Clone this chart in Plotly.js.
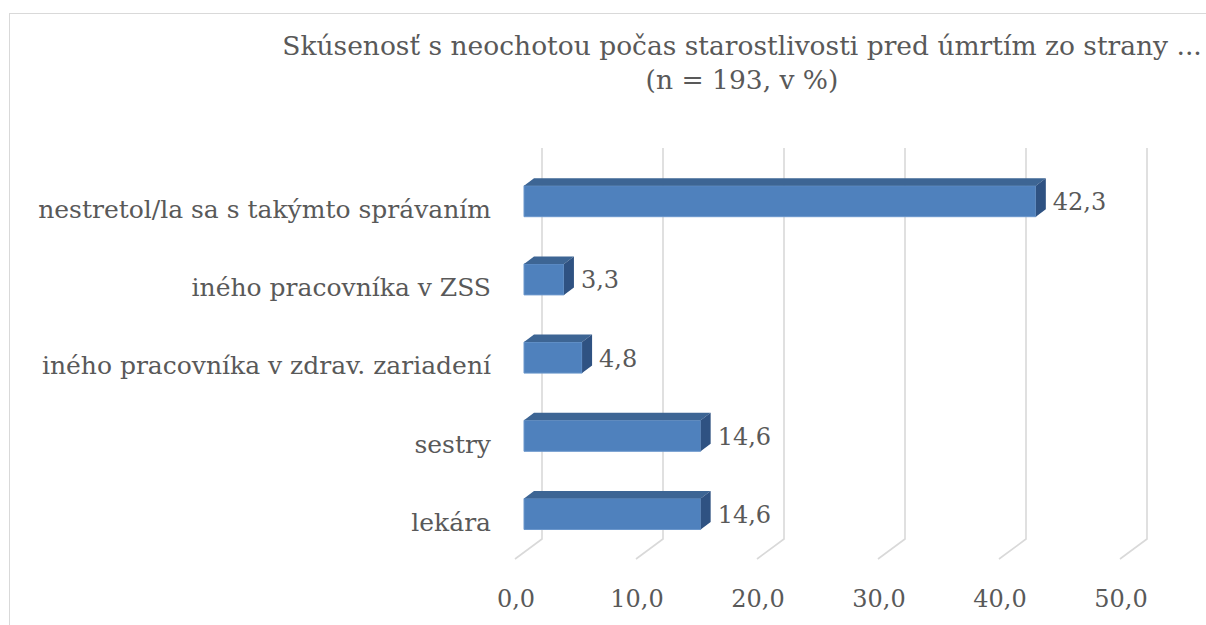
<!DOCTYPE html>
<html>
<head>
<meta charset="utf-8">
<script src="https://cdn.plot.ly/plotly-3.0.1.min.js"></script>
<style>
  html, body { margin:0; padding:0; background:#fff; overflow:hidden; }
  #wrap { position:relative; width:1206px; height:625px; }
  #frame { position:absolute; left:9px; top:13px; width:1300px; height:700px; border:1.5px solid #D9D9D9; box-sizing:border-box; }
  #chart { position:absolute; left:0; top:0; width:1206px; height:625px; }
</style>
</head>
<body>
<div id="wrap"><div id="frame"></div><div id="chart"></div></div>
<script>
// ---- data (bottom to top) ----
const categories = [
  "lekára",
  "sestry",
  "iného pracovníka v zdrav. zariadení",
  "iného pracovníka v ZSS",
  "nestretol/la sa s takýmto správaním"
];
const values = [14.6, 14.6, 4.8, 3.3, 42.3];
const xTicks = [0, 10, 20, 30, 40, 50];
const titleLines = ["Skúsenosť s neochotou počas starostlivosti pred úmrtím zo strany ...", "(n = 193, v %)"];

// ---- geometry (pixels) ----
const W = 1206, H = 625;
const plotL = 500, plotR = 1180, plotT = 140, plotB = 570;
const xPx0 = 524, xScale = 12.1;          // front face of bars
const yPx0 = 514, yUnit = 78.2;           // center of first category
const xr = [(plotL - xPx0) / xScale, (plotR - xPx0) / xScale];
const yr = [-(plotB - yPx0) / yUnit, (yPx0 - plotT) / yUnit];
const px2x = p => p / xScale;
const px2y = p => p / yUnit;

const barW = px2y(31);
const depthX = px2x(10), depthY = px2y(7.5);
const wallDX = px2x(18), floorFrontDX = px2x(-9);
const wallTopY = px2y(yPx0 - 148), wallBotY = -px2y(539 - yPx0), floorFrontY = -px2y(559 - yPx0);

const idx = categories.map((c, i) => i);
const fmt = v => v.toFixed(1).replace('.', ',');

// gridlines (back wall + floor) as shapes below the traces
const gridShapes = xTicks.map(t => ({
  type:'path', xref:'x', yref:'y', layer:'below',
  path:`M ${t + wallDX},${wallTopY} L ${t + wallDX},${wallBotY} L ${t + floorFrontDX},${floorFrontY}`,
  line:{color:'#D9D9D9', width:1.6}
}));

// top and side faces
const tx = [], ty = [], sx = [], sy = [];
values.forEach((v, i) => {
  const yt = i + barW / 2, yb = i - barW / 2;
  tx.push(0, v, v + depthX, depthX, 0, null);
  ty.push(yt, yt, yt + depthY, yt + depthY, yt, null);
  sx.push(v, v, v + depthX, v + depthX, v, null);
  sy.push(yb, yt, yt + depthY, yb + depthY, yb, null);
});

const textColor = '#595959';
const fontFam = '"DejaVu Serif", serif';

const traces = [
  { type:'bar', orientation:'h', x:values, y:idx, width:barW, base:0,
    marker:{color:'#4F81BD', line:{color:'#6B97CC', width:1}}, hoverinfo:'skip', showlegend:false },
  { type:'scatter', mode:'lines', x:tx, y:ty, fill:'toself', fillcolor:'#3D6594', line:{width:0, color:'#3D6594'}, hoverinfo:'skip', showlegend:false },
  { type:'scatter', mode:'lines', x:sx, y:sy, fill:'toself', fillcolor:'#2F5282', line:{width:0, color:'#2F5282'}, hoverinfo:'skip', showlegend:false },
  { type:'scatter', mode:'text', x:values.map(v => v + px2x(17)), y:idx.map(i => i - px2y(3)),
    text:values.map(fmt), textposition:'middle right', cliponaxis:false,
    textfont:{family:fontFam, size:24, color:textColor}, hoverinfo:'skip', showlegend:false }
];

const layout = {
  width:W, height:H,
  paper_bgcolor:'rgba(0,0,0,0)', plot_bgcolor:'rgba(0,0,0,0)',
  margin:{l:plotL, r:W - plotR, t:plotT, b:H - plotB, pad:0},
  separators:', ',
  font:{family:fontFam, color:textColor, size:24},
  title:{text:titleLines.join('<br>'), x:742 / W, xanchor:'center', xref:'container',
    y:1 - 55 / H, yanchor:'top', yref:'container',
    font:{family:fontFam, size:26.5, color:textColor}},
  shapes:gridShapes,
  xaxis:{range:xr, tickvals:xTicks, tickformat:'.1f', showgrid:false, zeroline:false, showline:false,
    ticks:'', ticklabelshift:-8, ticklabelstandoff:12, tickfont:{family:fontFam, size:24, color:textColor}},
  yaxis:{range:yr, tickvals:idx, ticktext:categories, showgrid:false, zeroline:false, showline:false,
    ticks:'', ticklabelshift:8, ticklabelstandoff:8, tickfont:{family:fontFam, size:25, color:textColor}},
  showlegend:false
};

Plotly.newPlot('chart', traces, layout, {staticPlot:true, displayModeBar:false});
</script>
</body>
</html>
